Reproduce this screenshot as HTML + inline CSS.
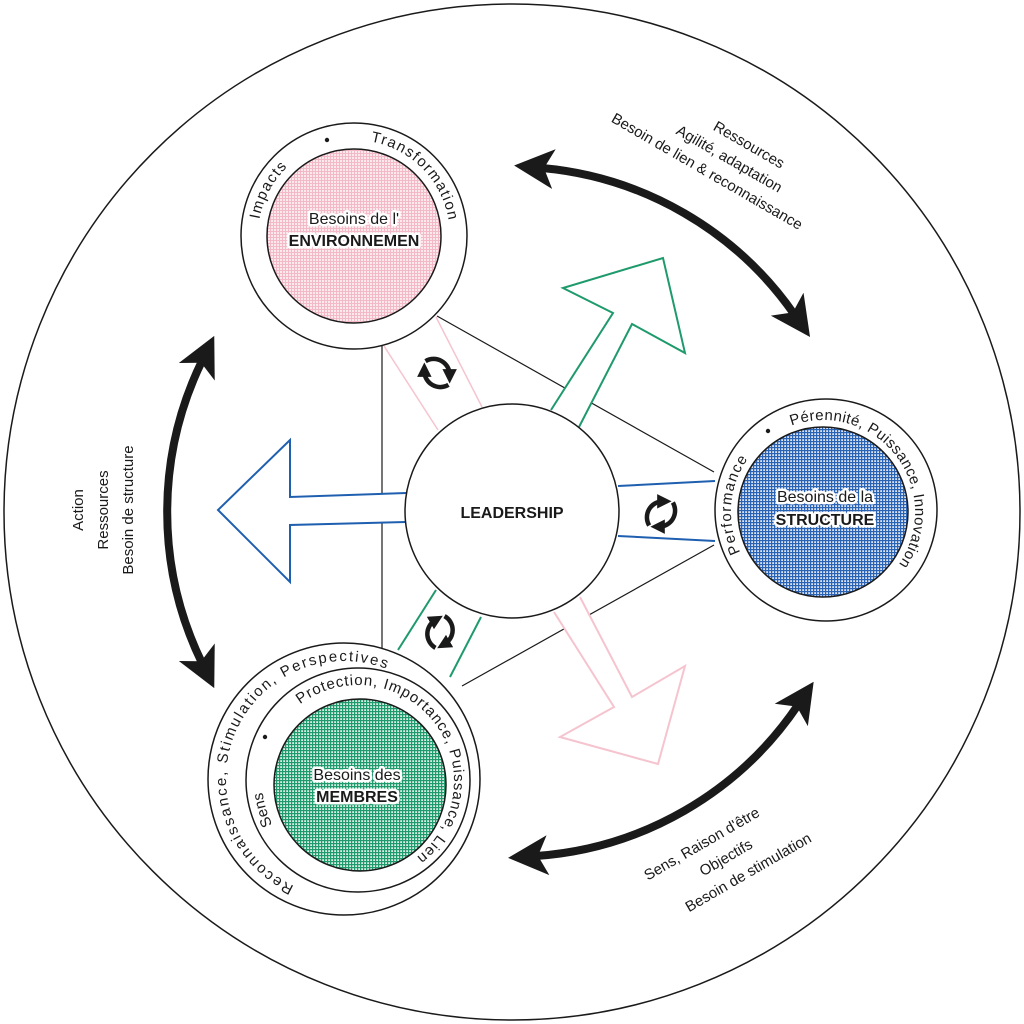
<!DOCTYPE html>
<html><head><meta charset="utf-8"><style>
html,body{margin:0;padding:0;background:#fff}
svg{display:block}
text{font-family:"Liberation Sans",sans-serif;fill:#1a1a1a}
.ring{font-size:15px}
.lab{font-size:16px;paint-order:stroke;stroke:#fff;stroke-width:5px;stroke-linejoin:round}
.side{font-size:15px}
</style></head><body>
<svg width="1024" height="1024" viewBox="0 0 1024 1024" xmlns="http://www.w3.org/2000/svg">
<defs>
<pattern id="pp" width="3" height="3" patternUnits="userSpaceOnUse"><rect width="3" height="3" fill="#fbe9ed"/><rect width="3" height="1" fill="#f3b9c6"/><rect width="1" height="3" fill="#f3b9c6"/></pattern>
<pattern id="pb" width="3" height="3" patternUnits="userSpaceOnUse"><rect width="3" height="3" fill="#dbe5f3"/><rect width="3" height="1.2" fill="#2a62b4"/><rect width="1.2" height="3" fill="#2a62b4"/></pattern>
<pattern id="pg" width="3" height="3" patternUnits="userSpaceOnUse"><rect width="3" height="3" fill="#d8efe6"/><rect width="3" height="1.2" fill="#1f9a6c"/><rect width="1.2" height="3" fill="#1f9a6c"/></pattern>
<marker id="ah" viewBox="0 0 10 10" refX="3" refY="5" markerWidth="5" markerHeight="5" orient="auto-start-reverse"><path d="M0,0 L10,5 L0,10 L2.5,5 Z" fill="#1a1a1a"/></marker>
<marker id="sa" viewBox="0 0 10 10" refX="4" refY="5" markerWidth="3.2" markerHeight="3.2" orient="auto"><path d="M0,0 L10,5 L0,10 Z" fill="#1a1a1a"/></marker>
<g id="rot">
<path d="M-4,-16 A16,16 0 0 1 10,8" fill="none" stroke="#1a1a1a" stroke-width="4.5" marker-end="url(#sa)"/>
<path d="M4,16 A16,16 0 0 1 -10,-8" fill="none" stroke="#1a1a1a" stroke-width="4.5" marker-end="url(#sa)"/>
</g>
<path id="pEnv" d="M258,236 a96,96 0 1 1 192,0 a96,96 0 1 1 -192,0" transform="rotate(10 354 236)"/>
<path id="pEnv2" d="M258,236 a96,96 0 1 1 192,0 a96,96 0 1 1 -192,0" transform="rotate(100 354 236)"/>
<path id="pStr" d="M731,512 a92,92 0 1 1 184,0 a92,92 0 1 1 -184,0" transform="rotate(-26 823 512)"/>
<path id="pStr2" d="M731,512 a92,92 0 1 1 184,0 a92,92 0 1 1 -184,0" transform="rotate(70 823 512)"/>
<path id="pMo" d="M226,779 a118,118 0 1 1 236,0 a118,118 0 1 1 -236,0" transform="rotate(-65 344 779)"/>
<path id="pMi1" d="M262,781 a96,96 0 1 1 192,0 a96,96 0 1 1 -192,0" transform="rotate(-27 358 781)"/>
<path id="pMi2" d="M262,781 a96,96 0 1 1 192,0 a96,96 0 1 1 -192,0" transform="rotate(53 358 781)"/>
</defs>

<circle cx="512" cy="512" r="508" fill="none" stroke="#1a1a1a" stroke-width="1.5"/>

<line x1="382" y1="345" x2="382" y2="665" stroke="#1a1a1a" stroke-width="1.2"/>
<line x1="437" y1="316" x2="714" y2="472" stroke="#1a1a1a" stroke-width="1.2"/>
<line x1="462" y1="686" x2="714" y2="545" stroke="#1a1a1a" stroke-width="1.2"/>

<line x1="384" y1="346" x2="438" y2="430" stroke="#f5c4cf" stroke-width="1.5"/>
<line x1="436" y1="317" x2="482" y2="407" stroke="#f5c4cf" stroke-width="1.5"/>
<line x1="398" y1="650" x2="436" y2="590" stroke="#1f9a6c" stroke-width="2"/>
<line x1="450" y1="677" x2="481" y2="617" stroke="#1f9a6c" stroke-width="2"/>
<line x1="618" y1="486" x2="715" y2="481" stroke="#1f5fb0" stroke-width="2"/>
<line x1="618" y1="536" x2="715" y2="541" stroke="#1f5fb0" stroke-width="2"/>

<path d="M551,410 L613,313 L563,288 L663,258 L685,353 L632,324 L579,427" fill="#fff" stroke="#1f9a6c" stroke-width="2"/>
<path d="M406,493 L290,497 L290,440 L218,510 L290,582 L290,525 L406,522" fill="#fff" stroke="#1f5fb0" stroke-width="2"/>
<path d="M554,612 L614,707 L560,737 L658,764 L685,666 L632,697 L580,597" fill="#fff" stroke="#f5c4cf" stroke-width="2"/>

<circle cx="512" cy="511" r="107" fill="#fff" stroke="#1a1a1a" stroke-width="1.5"/>
<text x="512" y="518" text-anchor="middle" font-size="16" font-weight="bold">LEADERSHIP</text>

<circle cx="354" cy="236" r="113" fill="#fff" stroke="#1a1a1a" stroke-width="1.5"/>
<circle cx="354" cy="236" r="87" fill="url(#pp)" stroke="#1a1a1a" stroke-width="1.5"/>
<text class="ring" font-size="16"><textPath href="#pEnv" textLength="60">Impacts</textPath></text>
<text class="ring" font-size="16"><textPath href="#pEnv2" textLength="118">Transformation</textPath></text>
<circle cx="327" cy="140" r="2.2" fill="#1a1a1a"/>
<text class="lab" x="354" y="224" text-anchor="middle">Besoins de l'</text>
<text class="lab" x="354" y="246" text-anchor="middle" font-weight="bold" font-size="15">ENVIRONNEMEN</text>

<circle cx="826" cy="510" r="111" fill="#fff" stroke="#1a1a1a" stroke-width="1.5"/>
<circle cx="823" cy="512" r="85" fill="url(#pb)" stroke="#1a1a1a" stroke-width="1.5"/>
<text class="ring"><textPath href="#pStr" textLength="98">Performance</textPath></text>
<text class="ring"><textPath href="#pStr2" textLength="232">Pérennité, Puissance, Innovation</textPath></text>
<circle cx="768" cy="431" r="2.2" fill="#1a1a1a"/>
<text class="lab" x="825" y="502" text-anchor="middle">Besoins de la</text>
<text class="lab" x="825" y="525" text-anchor="middle" font-weight="bold">STRUCTURE</text>

<circle cx="344" cy="779" r="136" fill="#fff" stroke="#1a1a1a" stroke-width="1.5"/>
<circle cx="358" cy="780" r="112" fill="#fff" stroke="#1a1a1a" stroke-width="1.5"/>
<circle cx="360" cy="785" r="86" fill="url(#pg)" stroke="#1a1a1a" stroke-width="1.5"/>
<text class="ring" font-size="17"><textPath href="#pMo" textLength="362">Reconnaissance, Stimulation, Perspectives</textPath></text>
<text class="ring"><textPath href="#pMi1" textLength="34">Sens</textPath></text>
<text class="ring"><textPath href="#pMi2" textLength="300">Protection, Importance, Puissance, Lien</textPath></text>
<circle cx="265" cy="737" r="2.2" fill="#1a1a1a"/>
<text class="lab" x="357" y="780" text-anchor="middle">Besoins des</text>
<text class="lab" x="357" y="802" text-anchor="middle" font-weight="bold">MEMBRES</text>

<use href="#rot" transform="translate(437,373) rotate(-30)"/>
<use href="#rot" transform="translate(661,514) rotate(60)"/>
<use href="#rot" transform="translate(440,632) rotate(30)"/>

<path d="M542,168 A345,345 0 0 1 794,314" fill="none" stroke="#1a1a1a" stroke-width="8" marker-start="url(#ah)" marker-end="url(#ah)"/>
<path d="M202,361 A345,345 0 0 0 202,663" fill="none" stroke="#1a1a1a" stroke-width="8" marker-start="url(#ah)" marker-end="url(#ah)"/>
<path d="M536,856 A345,345 0 0 0 798,705" fill="none" stroke="#1a1a1a" stroke-width="8" marker-start="url(#ah)" marker-end="url(#ah)"/>

<g transform="rotate(30 720 165)" text-anchor="middle" class="side">
<text x="735" y="138">Ressources</text>
<text x="725" y="160">Agilité, adaptation</text>
<text x="712" y="182">Besoin de lien &amp; reconnaissance</text>
</g>
<g text-anchor="middle" class="side">
<text transform="translate(83,510) rotate(-90)">Action</text>
<text transform="translate(108,510) rotate(-90)">Ressources</text>
<text transform="translate(133,510) rotate(-90)">Besoin de structure</text>
</g>
<g transform="rotate(-30 725 850)" text-anchor="middle" class="side">
<text x="708" y="838">Sens, Raison d'être</text>
<text x="722" y="862">Objectifs</text>
<text x="734" y="886">Besoin de stimulation</text>
</g>
</svg>
</body></html>
